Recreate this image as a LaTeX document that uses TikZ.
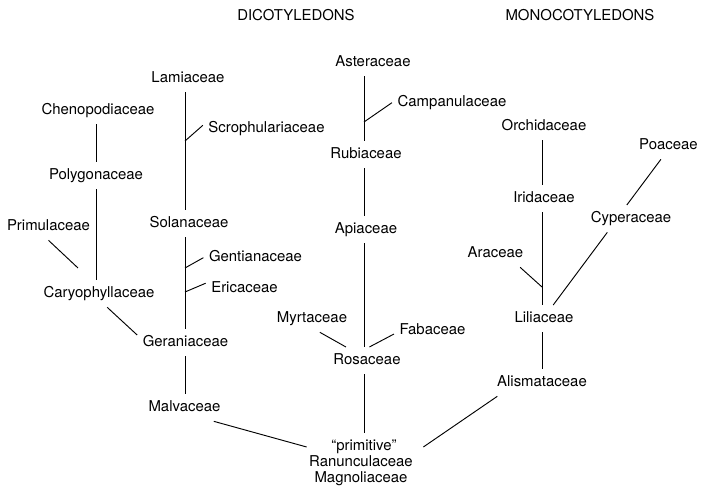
\documentclass[tikz,border=0pt]{standalone}
\usepackage{fontspec}
\setmainfont{TeX Gyre Heros}
\begin{document}
\begin{tikzpicture}[x=0.75pt,y=-0.75pt,
  lbl/.style={font=\fontsize{11.2pt}{13pt}\selectfont, text height=8.8pt, text depth=2.3pt,
              inner xsep=4pt, inner ysep=4.5pt, anchor=base},
  edge/.style={line width=0.7pt, black}]
\useasboundingbox (0,0) rectangle (701,488);
% headings
\node[lbl] (dic) at (296,21) {DICOTYLEDONS};
\node[lbl] (mon) at (580,21) {MONOCOTYLEDONS};
% dicot families
\node[lbl] (lam) at (188,83) {Lamiaceae};
\node[lbl] (che) at (98,115) {Chenopodiaceae};
\node[lbl] (scr) at (266.5,133) {Scrophulariaceae};
\node[lbl] (pol) at (96,180) {Polygonaceae};
\node[lbl] (pri) at (48.5,231) {Primulaceae};
\node[lbl] (sol) at (189,228) {Solanaceae};
\node[lbl] (gen) at (255.5,262) {Gentianaceae};
\node[lbl] (eri) at (244.5,293) {Ericaceae};
\node[lbl] (car) at (99,298) {Caryophyllaceae};
\node[lbl] (ger) at (185.5,347) {Geraniaceae};
\node[lbl] (mal) at (184.5,412) {Malvaceae};
\node[lbl] (ast) at (373,67) {Asteraceae};
\node[lbl] (cam) at (452,107) {Campanulaceae};
\node[lbl] (rub) at (366,159) {Rubiaceae};
\node[lbl] (api) at (366,234) {Apiaceae};
\node[lbl] (myr) at (312,323) {Myrtaceae};
\node[lbl] (fab) at (432.5,335) {Fabaceae};
\node[lbl] (ros) at (367,365) {Rosaceae};
\node[lbl] (pr1) at (364,451) {“primitive”};
\node[lbl] (pr2) at (361,467) {Ranunculaceae};
\node[lbl] (pr3) at (361,483) {Magnoliaceae};
% monocot families
\node[lbl] (orc) at (544,131) {Orchidaceae};
\node[lbl] (iri) at (544,203) {Iridaceae};
\node[lbl] (poa) at (668.5,150) {Poaceae};
\node[lbl] (cyp) at (631,223) {Cyperaceae};
\node[lbl] (ara) at (495.5,258) {Araceae};
\node[lbl] (lil) at (544,323) {Liliaceae};
\node[lbl] (ali) at (542,387) {Alismataceae};
% trunk lines and junctions
\coordinate (tl) at (185,0);
\coordinate (tc) at (96,0);
\coordinate (tm) at (364,0);
\coordinate (tr) at (542,0);
\coordinate (jscr) at (185,141);
\coordinate (jgen) at (185,268);
\coordinate (jeri) at (185,292);
\coordinate (jcam) at (364,122);
\coordinate (jara) at (542,287);
\coordinate (jpri) at (78,268);
% connectors
\draw[edge] (lam.south -| tl) -- (sol.north -| tl);
\draw[edge] (sol.south -| tl) -- (ger.north -| tl);
\draw[edge] (ger.south -| tl) -- (mal.north -| tl);
\draw[edge] (jscr) -- (scr.177);
\draw[edge] (jgen) -- (gen.west);
\draw[edge] (jeri) -- (eri.172);
\draw[edge] (che.south -| tc) -- (pol.north -| tc);
\draw[edge] (pol.south -| tc) -- (car.north -| tc);
\draw[edge] (pri.south) -- (jpri);
\draw[edge] (car.-59) -- (ger.171);
\draw[edge] (mal.-25) -- ([shift={(3,-2)}]pr2.north west);
\draw[edge] (ast.south -| tm) -- (rub.north -| tm);
\draw[edge] (jcam) -- (cam.west);
\draw[edge] (rub.south -| tm) -- (api.north -| tm);
\draw[edge] (api.south -| tm) -- (ros.north -| tm);
\draw[edge] (myr.-60) -- (ros.147);
\draw[edge] (fab.185) -- (ros.80);
\draw[edge] (ros.south -| tm) -- (pr1.north -| tm);
\draw[edge] ([shift={(5,-2)}]pr2.north east) -- (ali.197);
\draw[edge] (orc.south -| tr) -- (iri.north -| tr);
\draw[edge] (iri.south -| tr) -- (lil.north -| tr);
\draw[edge] (ara.-29) -- (jara);
\draw[edge] (poa.-119) -- (cyp.107);
\draw[edge] (cyp.-150) -- (lil.56);
\draw[edge] (lil.south -| tr) -- (ali.north -| tr);
\end{tikzpicture}
\end{document}
